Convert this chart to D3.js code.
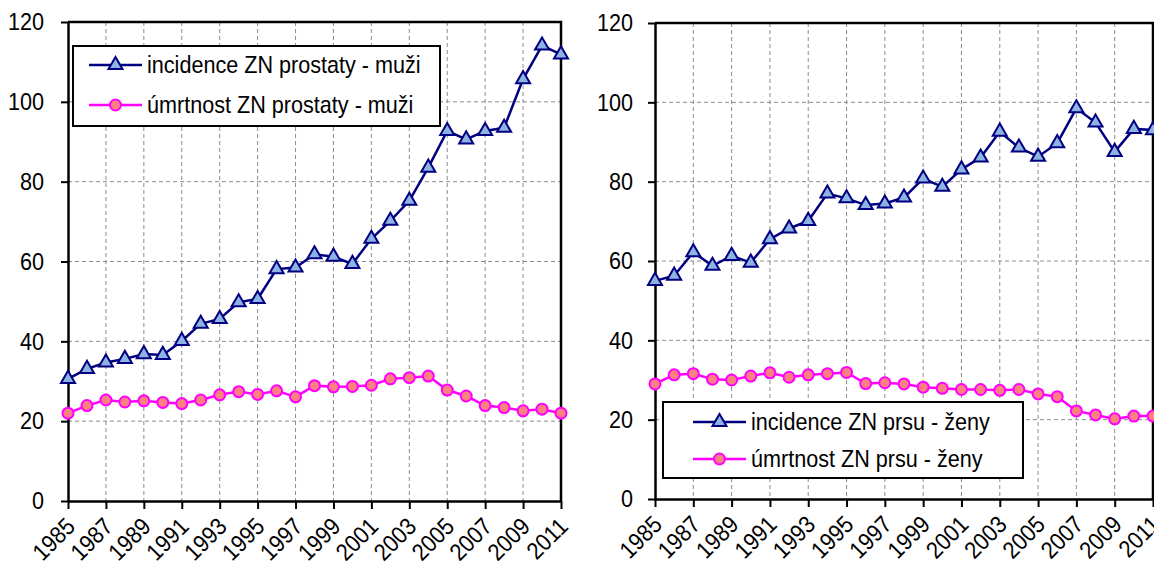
<!DOCTYPE html>
<html>
<head>
<meta charset="utf-8">
<script src="https://cdn.jsdelivr.net/npm/d3@7"></script>
<style>
body { margin: 0; background: #fff; }
svg text { font-family: Arial, "Liberation Sans", sans-serif; fill: #000; }
.grid line { stroke: #8c8c8c; stroke-width: 1; stroke-dasharray: 4,3; }
</style>
</head>
<body>
<svg id="chart" width="1154" height="568"></svg>
<script>
// data
var years = [1985, 1986, 1987, 1988, 1989, 1990, 1991, 1992, 1993, 1994, 1995, 1996, 1997, 1998,
             1999, 2000, 2001, 2002, 2003, 2004, 2005, 2006, 2007, 2008, 2009, 2010, 2011];
var xTickYears = [1985, 1987, 1989, 1991, 1993, 1995, 1997, 1999, 2001, 2003, 2005, 2007, 2009, 2011];
var yTicks = [0, 20, 40, 60, 80, 100, 120];

var prostateIncidence = [30.6, 33.1, 34.7, 35.6, 36.8, 36.6, 40.1, 44.4, 45.6, 49.8, 50.6, 58.1, 58.5, 61.8,
                         61.2, 59.4, 65.7, 70.2, 75.2, 83.5, 92.7, 90.6, 92.7, 93.5, 105.7, 114.1, 111.9];
var prostateMortality = [22.0, 23.9, 25.3, 24.8, 25.1, 24.7, 24.4, 25.3, 26.6, 27.4, 26.7, 27.6, 26.1, 28.9,
                         28.6, 28.7, 29.0, 30.6, 30.9, 31.3, 27.8, 26.3, 23.9, 23.4, 22.6, 23.0, 22.0];
var breastIncidence = [55.0, 56.3, 62.2, 58.8, 61.3, 59.6, 65.5, 68.2, 70.1, 77.0, 75.8, 74.1, 74.5, 76.0,
                       80.8, 78.7, 83.1, 86.1, 92.6, 88.6, 86.3, 89.7, 98.5, 94.9, 87.5, 93.3, 93.0];
var breastMortality = [29.0, 31.3, 31.6, 30.2, 30.0, 31.0, 31.8, 30.7, 31.3, 31.6, 31.9, 29.1, 29.3, 29.0,
                       28.2, 27.9, 27.6, 27.6, 27.4, 27.6, 26.5, 25.8, 22.2, 21.2, 20.2, 20.9, 20.9];

var legendProstate = ["incidence ZN prostaty - muži", "úmrtnost ZN prostaty - muži"];
var legendBreast = ["incidence ZN prsu - ženy", "úmrtnost ZN prsu - ženy"];

var fontSize = 24, squeeze = 0.9;
var navy = "#000080", magenta = "#ff00ff";

var svg = d3.select("#chart");

var panels = [
  { left: 68, right: 561, top: 22, bottom: 501, pad: 17,
    incidence: prostateIncidence, mortality: prostateMortality, labels: legendProstate,
    legend: { x: 73, y: 46, w: 367, h: 80, rows: [65, 105], x1: 89, x2: 142, tx: 147 } },
  { left: 655, right: 1153, top: 23, bottom: 499, pad: 15,
    incidence: breastIncidence, mortality: breastMortality, labels: legendBreast,
    legend: { x: 663, y: 402, w: 360, h: 76, rows: [422, 459], x1: 693, x2: 746, tx: 751 } }
];

panels.forEach(drawPanel);

function drawPanel(p) {
  var x = d3.scaleLinear().domain([1985, 2011]).range([p.left, p.right]);
  var y = d3.scaleLinear().domain([0, 120]).range([p.bottom, p.top]);
  var g = svg.append("g");

  // dashed grid
  var grid = g.append("g").attr("class", "grid");
  grid.selectAll("line.h").data(yTicks.filter(v => v > 0 && v < 120)).enter()
    .append("line").attr("class", "h")
    .attr("x1", p.left).attr("x2", p.right)
    .attr("y1", d => y(d)).attr("y2", d => y(d));
  grid.selectAll("line.v").data(xTickYears.filter(v => v > 1985 && v < 2011)).enter()
    .append("line").attr("class", "v")
    .attr("x1", d => x(d)).attr("x2", d => x(d))
    .attr("y1", p.top).attr("y2", p.bottom);

  // top and right frame
  g.append("path")
    .attr("d", "M" + p.left + "," + p.top + "H" + p.right + "V" + p.bottom)
    .attr("fill", "none").attr("stroke", "#000").attr("stroke-width", 2.5);

  // y axis
  var yAxis = d3.axisLeft(y).tickValues(yTicks).tickSize(7).tickSizeOuter(0).tickPadding(p.pad);
  var yg = g.append("g").attr("transform", "translate(" + p.left + ",0)").call(yAxis);
  yg.select(".domain").attr("stroke-width", 2.5);
  yg.selectAll(".tick line").attr("stroke-width", 2);
  yg.selectAll("text")
    .attr("transform", function() { return "translate(" + d3.select(this).attr("x") + ",0) scale(" + squeeze + ",1)"; })
    .attr("x", 0)
    .style("font-size", fontSize + "px");

  // x axis, rotated year labels
  var xAxis = d3.axisBottom(x).tickValues(xTickYears).tickSize(8).tickSizeOuter(0).tickFormat(d3.format("d"));
  var xg = g.append("g").attr("transform", "translate(0," + p.bottom + ")").call(xAxis);
  xg.select(".domain").attr("stroke-width", 2.5);
  xg.selectAll(".tick line").attr("stroke-width", 2);
  xg.selectAll("text")
    .attr("x", 0).attr("y", 0).attr("dy", "0.35em")
    .style("text-anchor", "end")
    .style("font-size", fontSize + "px")
    .attr("transform", "translate(2,21) rotate(-45) scale(" + squeeze + ",1)");

  // series lines
  var line = d3.line().x((d, i) => x(years[i])).y(d => y(d));
  g.append("path").datum(p.mortality).attr("d", line)
    .attr("fill", "none").attr("stroke", magenta).attr("stroke-width", 2.5);
  g.append("path").datum(p.incidence).attr("d", line)
    .attr("fill", "none").attr("stroke", navy).attr("stroke-width", 2.5);

  var tri = d3.symbol().type(d3.symbolTriangle).size(85);
  g.selectAll("path.tri").data(p.incidence).enter()
    .append("path").attr("class", "tri")
    .attr("d", tri)
    .attr("transform", (d, i) => "translate(" + x(years[i]) + "," + y(d) + ")")
    .attr("fill", "#8db3e2").attr("stroke", navy).attr("stroke-width", 2);
  g.selectAll("circle.dot").data(p.mortality).enter()
    .append("circle").attr("class", "dot")
    .attr("cx", (d, i) => x(years[i])).attr("cy", d => y(d)).attr("r", 5.5)
    .attr("fill", "#ff8080").attr("stroke", magenta).attr("stroke-width", 2);

  // legend
  var L = p.legend;
  var lg = g.append("g");
  lg.append("rect").attr("x", L.x).attr("y", L.y).attr("width", L.w).attr("height", L.h)
    .attr("fill", "#fff").attr("stroke", "#000").attr("stroke-width", 2);
  var cx = (L.x1 + L.x2) / 2;
  lg.append("line").attr("x1", L.x1).attr("x2", L.x2).attr("y1", L.rows[0]).attr("y2", L.rows[0])
    .attr("stroke", navy).attr("stroke-width", 2.5);
  lg.append("path").attr("d", tri).attr("transform", "translate(" + cx + "," + L.rows[0] + ")")
    .attr("fill", "#8db3e2").attr("stroke", navy).attr("stroke-width", 2);
  lg.append("line").attr("x1", L.x1).attr("x2", L.x2).attr("y1", L.rows[1]).attr("y2", L.rows[1])
    .attr("stroke", magenta).attr("stroke-width", 2.5);
  lg.append("circle").attr("cx", cx).attr("cy", L.rows[1]).attr("r", 5.5)
    .attr("fill", "#ff8080").attr("stroke", magenta).attr("stroke-width", 2);
  lg.selectAll("text").data(p.labels).enter().append("text")
    .attr("transform", (d, i) => "translate(" + L.tx + "," + L.rows[i] + ") scale(" + squeeze + ",1)")
    .attr("dy", "0.35em")
    .style("font-size", fontSize + "px")
    .text(d => d);
}
</script>
</body>
</html>
